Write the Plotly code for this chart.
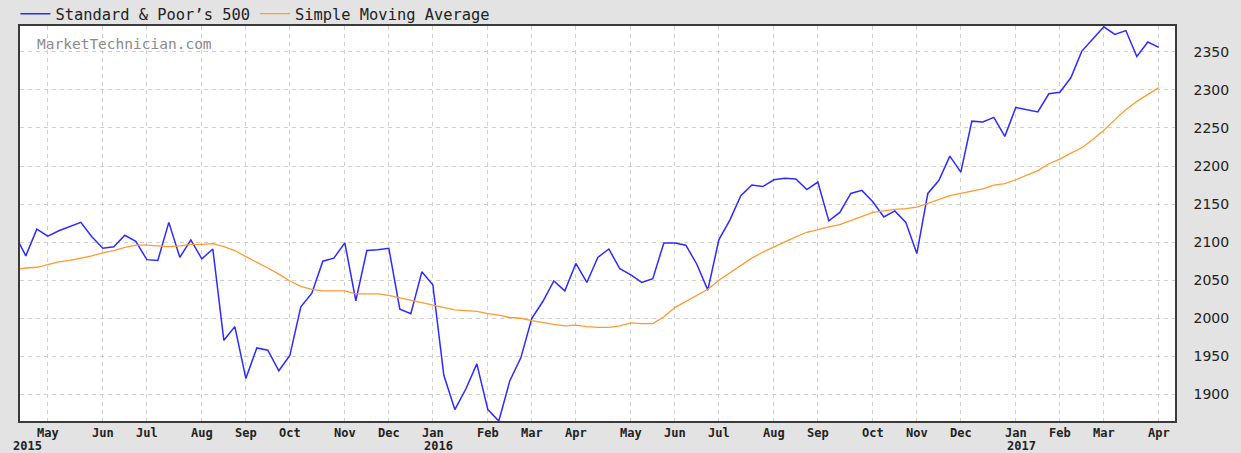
import pandas as pd
import plotly.graph_objects as go

# Weekly (Friday) observations, 2015-04-10 .. 2017-04-07
start_date = "2015-04-10"

sp500 = [
    2110, 2082, 2117, 2108, 2115, 2121, 2126, 2107, 2092, 2094,
    2109, 2101, 2077, 2076, 2126, 2080, 2103, 2078, 2091, 1971,
    1989, 1921, 1961, 1958, 1931, 1951, 2015, 2033, 2075, 2079,
    2099, 2023, 2089, 2090, 2092, 2012, 2006, 2061, 2044, 1925,
    1880, 1907, 1940, 1880, 1865, 1918, 1948, 2000, 2022, 2049,
    2036, 2072, 2047, 2080, 2091, 2065, 2057, 2047, 2052, 2099,
    2099, 2096, 2071, 2037, 2103, 2129, 2161, 2175, 2173, 2182,
    2184, 2183, 2169, 2179, 2128, 2139, 2164, 2168, 2153, 2133,
    2141, 2126, 2085, 2164, 2181, 2213, 2192, 2259, 2258, 2264,
    2239, 2277, 2274, 2271, 2295, 2297, 2316, 2351, 2367, 2383,
    2373, 2378, 2344, 2363, 2356,
]

sma = [
    2064, 2066, 2067, 2071, 2074, 2076, 2079, 2082, 2086, 2089,
    2093, 2096, 2096, 2095, 2094, 2095, 2097, 2097, 2098, 2094,
    2089, 2081, 2074, 2066, 2058, 2049, 2042, 2038, 2036, 2036,
    2036, 2032, 2032, 2032, 2030, 2027, 2023, 2020, 2017, 2014,
    2011, 2010, 2009, 2006, 2004, 2001, 2000, 1997, 1994, 1992,
    1990, 1991, 1989, 1988, 1988, 1990, 1994, 1993, 1993, 2002,
    2014, 2022, 2029, 2038, 2050, 2060, 2070, 2079, 2087, 2094,
    2101, 2107, 2113, 2117, 2120, 2123, 2128, 2134, 2139, 2141,
    2143, 2144, 2146, 2151, 2156, 2161, 2164, 2167, 2170, 2175,
    2177, 2182, 2188, 2194, 2203, 2209, 2217, 2224, 2235, 2247,
    2261, 2274, 2285, 2294, 2303,
]

dates = pd.date_range(start_date, periods=len(sp500), freq="7D")

month_tick_dates = [
    "2015-05-01", "2015-06-05", "2015-07-03", "2015-08-07", "2015-09-04",
    "2015-10-02", "2015-11-06", "2015-12-04", "2016-01-01", "2016-02-05",
    "2016-03-04", "2016-04-01", "2016-05-06", "2016-06-03", "2016-07-01",
    "2016-08-05", "2016-09-02", "2016-10-07", "2016-11-04", "2016-12-02",
    "2017-01-06", "2017-02-03", "2017-03-03", "2017-04-07",
]
month_tick_labels = [
    "May", "Jun", "Jul", "Aug", "Sep", "Oct", "Nov", "Dec", "Jan", "Feb",
    "Mar", "Apr", "May", "Jun", "Jul", "Aug", "Sep", "Oct", "Nov", "Dec",
    "Jan", "Feb", "Mar", "Apr",
]
y_ticks = [1900, 1950, 2000, 2050, 2100, 2150, 2200, 2250, 2300, 2350]

MONO = "DejaVu Sans Mono"

fig = go.Figure()
fig.add_trace(go.Scatter(
    x=dates, y=sp500, mode="lines", name="Standard & Poor’s 500",
    line=dict(color="#2b2bff", width=1.5),
))
fig.add_trace(go.Scatter(
    x=dates, y=sma, mode="lines", name="Simple Moving Average",
    line=dict(color="#ff9a2e", width=1.3),
))

grid_color = "#cfcfcf"
fig.update_layout(
    width=1241, height=453,
    margin=dict(l=20, r=66, t=26, b=32, autoexpand=False),
    paper_bgcolor="#e3e3e3",
    plot_bgcolor="#ffffff",
    showlegend=True,
    legend=dict(
        orientation="h", x=-0.004, xanchor="left", y=1.03, yanchor="middle",
        font=dict(family=MONO, size=15.4, color="#222222"),
        bgcolor="rgba(0,0,0,0)", borderwidth=0,
        itemwidth=30,
    ),
    xaxis=dict(
        type="date", automargin=False,
        range=["2015-04-13 07:00", "2017-04-17 07:00"],
        tickmode="array", tickvals=month_tick_dates, ticktext=month_tick_labels,
        tickangle=0,
        tickfont=dict(family=MONO, size=12, color="#222222", weight="bold"),
        showgrid=True, gridcolor=grid_color, griddash="4px,4px", gridwidth=1,
        showline=True, mirror=True, linecolor="#3a3a3a", linewidth=1.5,
        ticks="", zeroline=False,
    ),
    yaxis=dict(
        side="right", automargin=False,
        range=[1865, 2384],
        tickmode="array", tickvals=y_ticks,
        ticktext=[str(v) for v in y_ticks],
        tickfont=dict(family="DejaVu Sans", size=14, color="#222222"),
        ticklabelstandoff=14,
        showgrid=True, gridcolor=grid_color, griddash="4px,4px", gridwidth=1,
        showline=True, mirror=True, linecolor="#3a3a3a", linewidth=1.5,
        ticks="", zeroline=False,
    ),
    annotations=[
        dict(text="MarketTechnician.com", xref="paper", yref="paper",
             x=15 / 1155, y=0.954, xanchor="left", yanchor="middle",
             showarrow=False, font=dict(family=MONO, size=14.5, color="#8a8a8a")),
        dict(text="2015", xref="paper", yref="paper", x=-9 / 1155, y=-0.063,
             xanchor="left", yanchor="middle", showarrow=False,
             font=dict(family=MONO, size=12, color="#222222", weight="bold")),
        dict(text="2016", xref="x", yref="paper", x="2016-01-01", xshift=-11,
             y=-0.063, xanchor="left", yanchor="middle", showarrow=False,
             font=dict(family=MONO, size=12, color="#222222", weight="bold")),
        dict(text="2017", xref="x", yref="paper", x="2017-01-06", xshift=-11,
             y=-0.063, xanchor="left", yanchor="middle", showarrow=False,
             font=dict(family=MONO, size=12, color="#222222", weight="bold")),
    ],
)

fig.write_html(
    "out.html",
    config={"displayModeBar": False},
    post_script="document.body.style.margin='0';document.body.style.padding='0';",
)
